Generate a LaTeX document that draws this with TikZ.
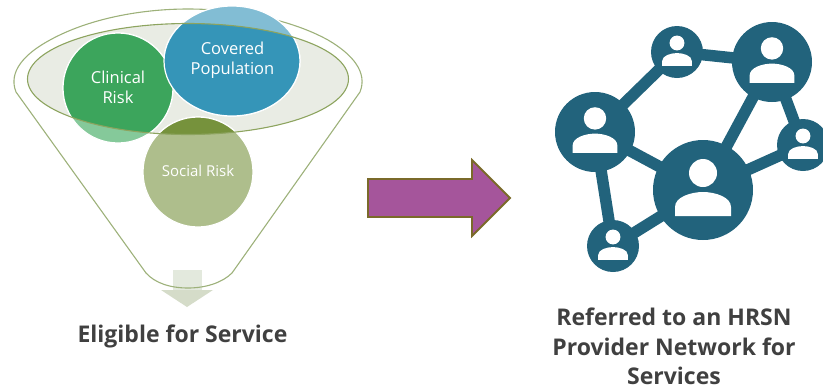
\documentclass[tikz,border=0pt]{standalone}
\usepackage{fontspec}
\usetikzlibrary{shapes.geometric}
\setmainfont{Open Sans}
\definecolor{netc}{HTML}{22637C}
\definecolor{funl}{HTML}{9DB17A}
\definecolor{elfill}{HTML}{E9ECE4}
\definecolor{elline}{HTML}{8DA45F}
\definecolor{clinL}{HTML}{85C99A}
\definecolor{clinD}{HTML}{3CA55C}
\definecolor{covL}{HTML}{82BDD4}
\definecolor{covD}{HTML}{3595B8}
\definecolor{socL}{HTML}{AEBE8C}
\definecolor{socD}{HTML}{76923C}
\definecolor{arrf}{HTML}{A5559B}
\definecolor{arrl}{HTML}{7A6A2A}
\definecolor{txtc}{HTML}{404040}
\definecolor{stemc}{HTML}{E3E9DD}
\definecolor{headc}{HTML}{D5DCC9}
\tikzset{
  x=1pt,y=-1pt,
  blob/.style={circle,draw=white,line width=1.2pt,minimum size=110pt,inner sep=0pt},
  covblob/.style={ellipse,draw=white,line width=1.2pt,minimum width=136pt,minimum height=110pt,inner sep=0pt},
  blobtext/.style={text=white,align=center,font=\fontsize{16.5}{20}\selectfont},
  caption/.style={text=txtc,align=center,font=\fontsize{23}{29.5}\selectfont\bfseries},
  hub/.style={circle,fill=netc,inner sep=0pt},
  bighub/.style={hub,minimum size=80pt},
  midhub/.style={hub,minimum size=100pt},
  smallhub/.style={hub,minimum size=52pt},
  link/.style={draw=netc,line width=11.5pt}
}
\newcommand{\persona}[3]{%
  \begin{scope}[shift={(#1,#2)},scale=#3]
    \fill[white] (0,-17) circle (14);
    \fill[white] (-28,26) -- (-28,17) .. controls (-28,7) and (-12,2) .. (0,2)
       .. controls (12,2) and (28,7) .. (28,17) -- (28,26) -- cycle;
  \end{scope}}
\begin{document}
\begin{tikzpicture}
\useasboundingbox (0,0) rectangle (823,389);
% down arrow behind the funnel line
\fill[stemc] (173,270) rectangle (202,290);
\fill[headc] (161,290) -- (213,290) -- (187,307) -- cycle;
% funnel
\draw[funl,line width=1.1pt,line join=round]
  (16,92) .. controls (8,72) and (24,54) .. (50,40)
  .. controls (88,19) and (140,9) .. (188,9)
  .. controls (236,9) and (290,19) .. (328,40)
  .. controls (352,54) and (368,72) .. (360,92)
  -- (232,273) .. controls (222,283) and (205,288) .. (188,288)
  .. controls (170,288) and (155,283) .. (146,273) -- cycle;
% inner ellipse
\fill[elfill] (188,79) ellipse [x radius=160.5,y radius=55.5];
% circles: lighter outside the ellipse
\node[blob,fill=clinL] (clin) at (118,88) {};
\node[blob,fill=socL] (soc) at (198,172) {};
\node[covblob,fill=covL] (cov) at (232,61) {};
\begin{scope}
  \clip (188,79) ellipse [x radius=160.5,y radius=55.5];
  \node[blob,fill=clinD] at (118,88) {};
  \node[blob,fill=socD] at (198,172) {};
  \node[covblob,fill=covD] at (232,61) {};
\end{scope}
\draw[elline,line width=1.1pt] (188,79) ellipse [x radius=160.5,y radius=55.5];
\node[blobtext] at (118,87.5) {Clinical\\Risk};
\node[blobtext] at (232.5,60.5) {Covered\\Population};
\node[blobtext,font=\fontsize{15}{18}\selectfont] at (198,171) {Social Risk};
% main arrow
\draw[arrl,fill=arrf,line width=1.8pt,line join=miter]
  (368,179) -- (472,179) -- (472,160) -- (510,198) -- (472,236) -- (472,217) -- (368,217) -- cycle;
% network
\node[bighub] (nl) at (595,132) {};
\node[smallhub] (nt) at (677,52) {};
\node[bighub] (ntr) at (772,62) {};
\node[smallhub] (nr) at (803,145) {};
\node[midhub] (nc) at (703,190) {};
\node[smallhub] (nb) at (613,246) {};
\draw[link] (nl.center) -- (nt.center);
\draw[link] (nt.center) -- (ntr.center);
\draw[link] (ntr.center) -- (nc.center);
\draw[link] (ntr.center) -- (nr.center);
\draw[link] (nr.center) -- (nc.center);
\draw[link] (nc.center) -- (nl.center);
\draw[link] (nl.center) -- (nb.center);
\draw[link] (nb.center) -- (nc.center);
\persona{595}{132}{0.8}
\persona{677}{52}{0.53}
\persona{772}{62}{0.8}
\persona{803}{145}{0.53}
\persona{703}{190}{1}
\persona{613}{246}{0.53}
% captions
\node[caption] at (182.5,336) {Eligible for Service};
\node[caption] at (674,346.5) {Referred to an HRSN\\Provider Network for\\Services};
\end{tikzpicture}
\end{document}
